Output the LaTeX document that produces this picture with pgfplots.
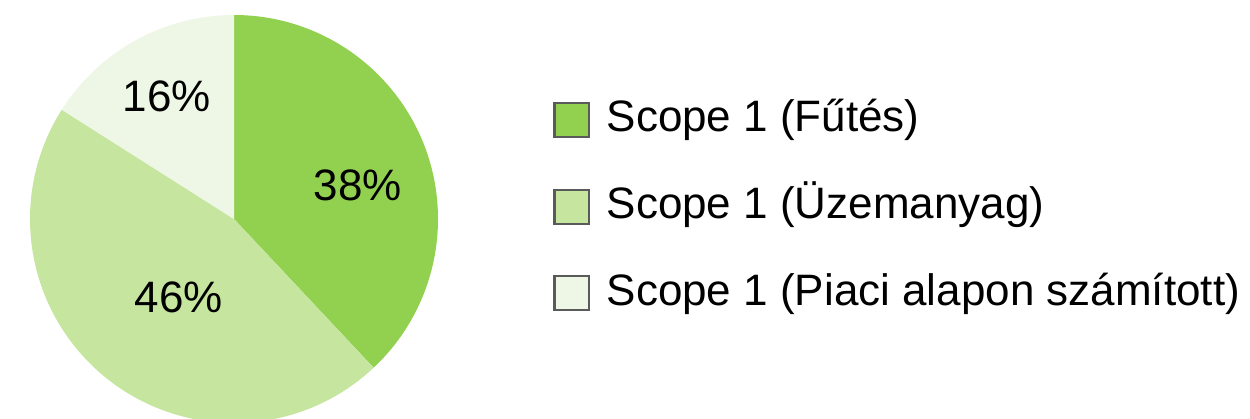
\documentclass[border=0pt]{standalone}
\usepackage{pgfplots}
\usepackage{pgfplotstable}
\pgfplotsset{compat=1.18}
\usepackage{fontspec}
\setmainfont{Liberation Sans}
\definecolor{c1}{HTML}{92D050}
\definecolor{c2}{HTML}{C6E6A0}
\definecolor{c3}{HTML}{EEF7E5}
\definecolor{edge}{HTML}{5A5A5A}
\pgfplotstableread{
idx value
1 38
2 46
3 16
}\piedata
\begin{document}
\begin{tikzpicture}
\pgfplotstablegetelem{0}{value}\of\piedata \let\va\pgfplotsretval
\pgfplotstablegetelem{1}{value}\of\piedata \let\vb\pgfplotsretval
\pgfplotstablegetelem{2}{value}\of\piedata \let\vc\pgfplotsretval
\pgfmathsetmacro\aA{90}
\pgfmathsetmacro\aB{90-3.6*\va}
\pgfmathsetmacro\aC{\aB-3.6*\vb}
\pgfmathsetmacro\aD{\aC-3.6*\vc}
\begin{axis}[
  anchor=south west, at={(0,0)},
  scale only axis, width=750pt, height=251.4pt,
  xmin=0, xmax=1250, ymin=0, ymax=419,
  hide axis, clip=true,
  legend image code/.code={\draw[#1, line width=1.3pt] (0pt,-10.2pt) rectangle (20.7pt,10.2pt);},
  legend style={at={(axis description cs:0.4424,0.766)}, anchor=north west,
    draw=none, fill=none, inner sep=0pt, row sep=26pt, column sep=10pt,
    font=\fontsize{26.4}{32}\selectfont,
    nodes={inner sep=0pt, text height=20pt, text depth=6pt}},
  legend cell align=left,
]
\addlegendimage{fill=c1, draw=edge}
\addlegendentry{Scope 1 (Fűtés)}
\addlegendimage{fill=c2, draw=edge}
\addlegendentry{Scope 1 (Üzemanyag)}
\addlegendimage{fill=c3, draw=edge}
\addlegendentry{Scope 1 (Piaci alapon számított)}
\fill[c1] (axis cs:234,200) -- ++(\aA:122.4pt) arc[start angle=\aA, end angle=\aB, radius=122.4pt] -- cycle;
\fill[c2] (axis cs:234,200) -- ++(\aB:122.4pt) arc[start angle=\aB, end angle=\aC, radius=122.4pt] -- cycle;
\fill[c3] (axis cs:234,200) -- ++(\aC:122.4pt) arc[start angle=\aC, end angle=\aD, radius=122.4pt] -- cycle;
\node[font=\fontsize{26.4}{32}\selectfont] at (axis cs:358,234) {\va\%};
\node[font=\fontsize{26.4}{32}\selectfont] at (axis cs:179,122) {\vb\%};
\node[font=\fontsize{26.4}{32}\selectfont] at (axis cs:167,323) {\vc\%};
\end{axis}
\pgfresetboundingbox
\path[use as bounding box] (0,0) rectangle (750pt,251.4pt);
\end{tikzpicture}
\end{document}
